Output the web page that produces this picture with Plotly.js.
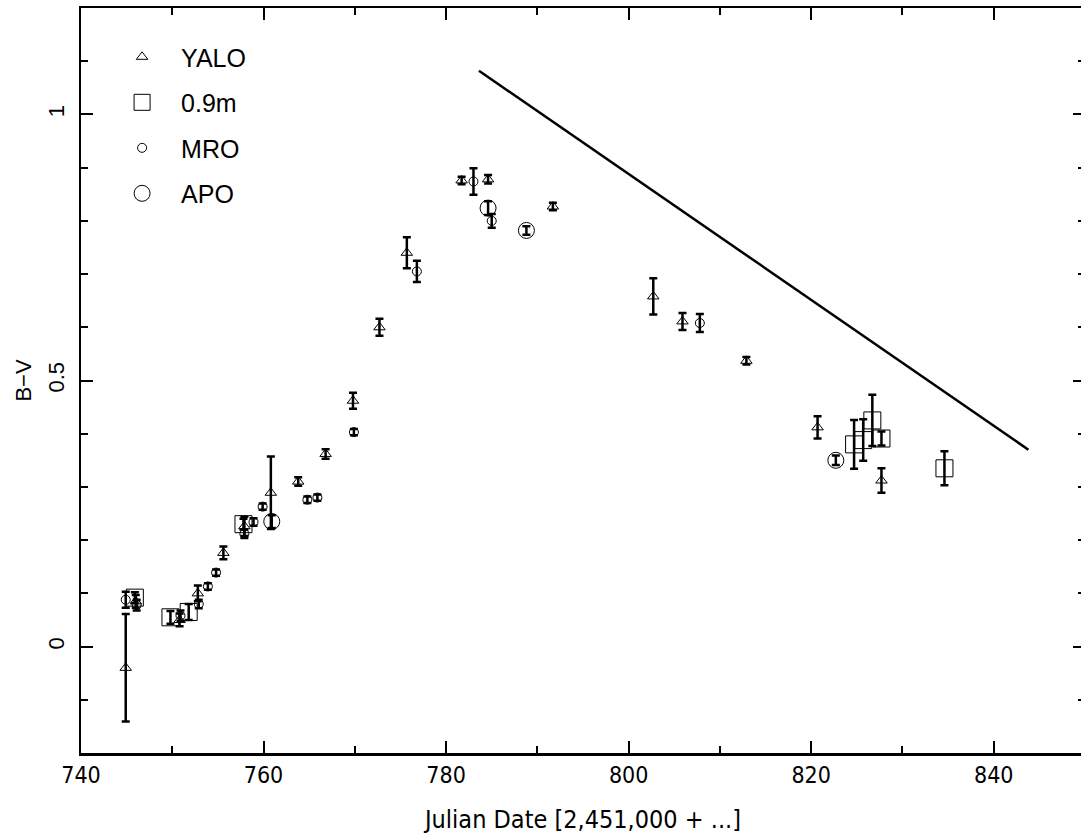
<!DOCTYPE html>
<html>
<head>
<meta charset="utf-8">
<script src="https://cdn.plot.ly/plotly-3.0.1.min.js"></script>
<style>
  html, body { margin: 0; padding: 0; overflow: hidden; background: #fff; }
  #chart { width: 1090px; height: 837px; }
</style>
</head>
<body>
<div id="chart"></div>
<script>
// B-V colour curve, Julian Date offsets from 2,451,000

// YALO photometry
const yaloX   = [744.9, 746.0, 750.8, 752.8, 755.6, 757.9, 760.8, 763.8, 766.8, 769.8, 772.7, 775.7, 781.7, 784.6, 791.7, 802.7, 805.9, 812.9, 820.7, 827.7];
const yaloY   = [-0.040, 0.085, 0.050, 0.100, 0.176, 0.226, 0.289, 0.310, 0.362, 0.462, 0.600, 0.740, 0.876, 0.878, 0.827, 0.658, 0.611, 0.537, 0.412, 0.312];
const yaloErr = [0.101, 0.012, 0.012, 0.015, 0.012, 0.018, 0.068, 0.008, 0.009, 0.015, 0.016, 0.029, 0.007, 0.008, 0.007, 0.034, 0.016, 0.007, 0.021, 0.023];

// 0.9m telescope photometry
const m09X   = [745.9, 749.8, 751.8, 757.8, 824.7, 825.7, 826.7, 827.7, 834.6];
const m09Y   = [0.092, 0.055, 0.065, 0.230, 0.380, 0.388, 0.425, 0.391, 0.335];
const m09Err = [0.010, 0.012, 0.015, 0.010, 0.046, 0.039, 0.048, 0.013, 0.032];

// MRO photometry
const mroX   = [744.9, 746.1, 750.9, 752.9, 753.9, 754.8, 757.9, 758.9, 759.9, 764.8, 765.9, 769.9, 776.8, 783.0, 785.0, 807.8];
const mroY   = [0.088, 0.078, 0.058, 0.080, 0.113, 0.139, 0.212, 0.234, 0.263, 0.276, 0.280, 0.403, 0.705, 0.874, 0.800, 0.608];
const mroErr = [0.015, 0.010, 0.010, 0.008, 0.006, 0.006, 0.008, 0.007, 0.006, 0.006, 0.006, 0.006, 0.020, 0.025, 0.013, 0.017];

// APO photometry
const apoX   = [760.9, 784.6, 788.8, 822.7];
const apoY   = [0.235, 0.824, 0.782, 0.350];
const apoErr = [0.012, 0.013, 0.008, 0.009];

// reference slope line
const slopeX = [783.6, 843.8];
const slopeY = [1.082, 0.370];

const legendFont = 'Liberation Sans, Arial, sans-serif';
const tickFont = 'DejaVu Sans Condensed, Liberation Sans Narrow, DejaVu Sans, sans-serif';

function errs(arr) {
  return { type: 'data', array: arr, visible: true, color: '#000', thickness: 2.5, width: 4 };
}

const traces = [
  {
    x: yaloX, y: yaloY, error_y: errs(yaloErr),
    type: 'scatter', mode: 'markers', name: 'YALO', legendgroup: 'a',
    marker: { symbol: 'triangle-up-open', size: 10, color: '#000', line: { width: 1, color: '#000' } }
  },
  {
    x: m09X, y: m09Y, error_y: errs(m09Err),
    type: 'scatter', mode: 'markers', name: '0.9m', legendgroup: 'b',
    marker: { symbol: 'square-open', size: 17, color: '#000', line: { width: 1, color: '#000' } }
  },
  {
    x: mroX, y: mroY, error_y: errs(mroErr),
    type: 'scatter', mode: 'markers', name: 'MRO', legendgroup: 'c',
    marker: { symbol: 'circle-open', size: 9, color: '#000', line: { width: 1, color: '#000' } }
  },
  {
    x: apoX, y: apoY, error_y: errs(apoErr),
    type: 'scatter', mode: 'markers', name: 'APO', legendgroup: 'd',
    marker: { symbol: 'circle-open', size: 16, color: '#000', line: { width: 1, color: '#000' } }
  },
  {
    x: slopeX, y: slopeY, type: 'scatter', mode: 'lines', showlegend: false,
    line: { color: '#000', width: 2.5 }, hoverinfo: 'skip'
  }
];

const axisCommon = {
  showgrid: false, zeroline: false, showline: true, linecolor: '#000', linewidth: 2.5,
  mirror: 'ticks', ticks: 'inside', ticklen: 12, tickwidth: 2, tickcolor: '#000'
};

const layout = {
  width: 1090, height: 837,
  margin: { l: 81, r: 5, t: 8, b: 84 },
  paper_bgcolor: '#fff', plot_bgcolor: '#fff',
  showlegend: true,
  legend: {
    x: 0.022, y: 0.965, xanchor: 'left', yanchor: 'top',
    font: { family: legendFont, size: 25, color: '#000' },
    itemwidth: 68, tracegroupgap: 10, bgcolor: 'rgba(0,0,0,0)', borderwidth: 0,
    itemsizing: 'trace'
  },
  xaxis: Object.assign({}, axisCommon, {
    range: [740, 850], dtick: 20, tick0: 740,
    minor: { dtick: 10, ticks: 'inside', ticklen: 7, tickwidth: 2, tickcolor: '#000' },
    tickfont: { family: tickFont, size: 23, color: '#000' },
    title: { text: 'Julian Date [2,451,000 + ...]', font: { family: tickFont, size: 25, color: '#000' }, standoff: 24 }
  }),
  yaxis: Object.assign({}, axisCommon, {
    range: [-0.2, 1.2], dtick: 0.5, tick0: 0, tickangle: -90, ticklabelstandoff: 6,
    minor: { dtick: 0.1, ticks: 'inside', ticklen: 7, tickwidth: 2, tickcolor: '#000' },
    tickfont: { family: legendFont, size: 22, color: '#000' },
    title: { text: 'B\u2212V', font: { family: legendFont, size: 22, color: '#000' }, standoff: 6 }
  })
};

Plotly.newPlot('chart', traces, layout, { displayModeBar: false, staticPlot: true });
</script>
</body>
</html>
